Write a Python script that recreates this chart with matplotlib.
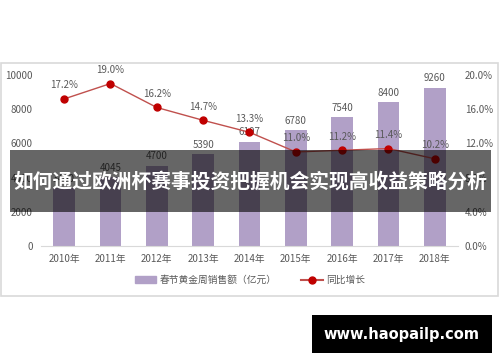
import matplotlib
matplotlib.use("Agg")
import matplotlib.pyplot as plt
from matplotlib.patches import Rectangle
from matplotlib.lines import Line2D
from matplotlib.patches import Patch

plt.rcParams['font.family'] = ['Noto Sans CJK SC', 'DejaVu Sans']

years = ['2010年', '2011年', '2012年', '2013年', '2014年', '2015年', '2016年', '2017年', '2018年']
sales = [3400, 4045, 4700, 5390, 6107, 6780, 7540, 8400, 9260]
growth = [17.2, 19.0, 16.2, 14.7, 13.3, 11.0, 11.2, 11.4, 10.2]
left_ticks = [0, 2000, 4000, 6000, 8000, 10000]
right_ticks = [0, 4, 8, 12, 16, 20]

bar_color = '#B1A0C7'
text_gray = '#595959'

fig = plt.figure(figsize=(5, 3.62), dpi=100)
W, H = 500, 362

# chart frame
fig.patches.append(Rectangle((1 / W, 1 - 296 / H), 497 / W, 233 / H, transform=fig.transFigure,
                             fill=False, edgecolor='#D9D9D9', linewidth=1.2))

ax = fig.add_axes([41 / W, 1 - 246 / H, 417 / W, 171 / H])
x = list(range(len(years)))
ax.bar(x, sales, width=0.47, color=bar_color, zorder=2)
for xi, v in zip(x, sales):
    ax.text(xi, v + 250, str(v), ha='center', va='bottom', fontsize=7, color=text_gray)
ax.set_xlim(-0.5, len(years) - 0.5)
ax.set_ylim(0, 10000)
ax.set_yticks(left_ticks)
ax.set_yticklabels([str(t) for t in left_ticks])
ax.set_xticks(x)
ax.set_xticklabels(years)
ax.tick_params(axis='both', length=0, labelsize=7, colors=text_gray, pad=6)
for s in ['top', 'right', 'left']:
    ax.spines[s].set_visible(False)
ax.spines['bottom'].set_color('#D9D9D9')

ax2 = ax.twinx()
ax2.plot(x, growth, color='#C0504D', linewidth=1, marker='o', markersize=5,
         markerfacecolor='#C00000', markeredgecolor='#C00000', zorder=3)
for xi, g in zip(x, growth):
    ax2.text(xi, g + 1.0, f'{g:.1f}%', ha='center', va='bottom', fontsize=7, color=text_gray)
ax2.set_ylim(0, 20)
ax2.set_yticks(right_ticks)
ax2.set_yticklabels([f'{t:.1f}%' for t in right_ticks])
ax2.tick_params(axis='y', length=0, labelsize=7, colors=text_gray, pad=5)
for s in ax2.spines.values():
    s.set_visible(False)

handles = [Patch(color=bar_color), Line2D([0], [0], color='#C0504D', marker='o', markersize=5,
                                          markerfacecolor='#C00000', markeredgecolor='#C00000')]
fig.legend(handles, ['春节黄金周销售额（亿元）', '同比增长'], loc='center', ncol=2,
           bbox_to_anchor=(250 / W, 1 - 280 / H), frameon=False, fontsize=7,
           labelcolor=text_gray, handlelength=2.2, columnspacing=2.5, handletextpad=0.4)

# overlay banner
fig.patches.append(Rectangle((10 / W, 1 - 212 / H), 481 / W, 62 / H, transform=fig.transFigure,
                             facecolor='black', alpha=0.6, edgecolor='none', zorder=10))
fig.text(250 / W, 1 - 182 / H, '如何通过欧洲杯赛事投资把握机会实现高收益策略分析', ha='center', va='center',
         color='white', fontsize=14.2, fontweight='bold', zorder=11)

# watermark
fig.patches.append(Rectangle((312 / W, 1 - 353 / H), 180 / W, 38 / H, transform=fig.transFigure,
                             facecolor='black', edgecolor='none', zorder=10))
fig.text(401 / W, 1 - 334 / H, 'www.haopailp.com', ha='center', va='center', color='white',
         fontsize=10.5, fontweight='bold', family=['DejaVu Sans'], zorder=11)

fig.savefig('out.png', dpi=100)
